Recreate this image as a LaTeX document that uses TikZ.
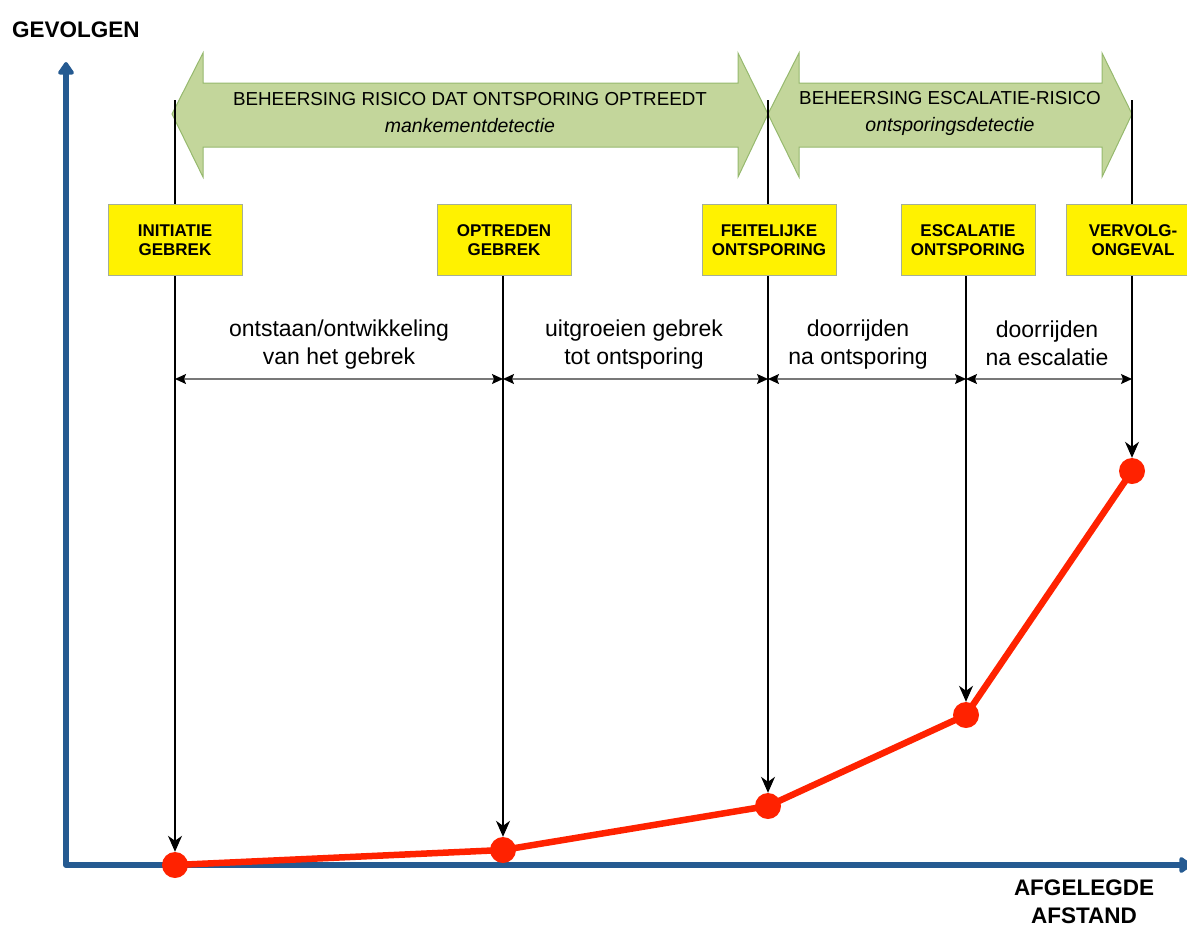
\documentclass[tikz,border=0pt]{standalone}
\usepackage{fontspec}
\setmainfont{Liberation Sans}
\usetikzlibrary{arrows.meta,backgrounds}
\definecolor{axisblue}{RGB}{37,90,145}
\definecolor{arrowgreen}{RGB}{195,214,155}
\definecolor{arrowedge}{RGB}{150,185,110}
\definecolor{ptred}{RGB}{255,34,0}
\definecolor{boxedge}{RGB}{165,175,150}
\definecolor{dimgray}{RGB}{120,120,120}
\begin{document}
\begin{tikzpicture}[x=1pt,y=-1pt,
  axis/.style={line width=6pt, color=axisblue, line cap=round, line join=round},
  greenarrow/.style={fill=arrowgreen, draw=arrowedge, line width=1pt},
  arrowtext/.style={align=center, font=\fontsize{18.8}{27}\selectfont, inner sep=0pt},
  eventbox/.style={rectangle, fill=yellow, draw=boxedge, line width=1pt, minimum width=134pt, minimum height=71pt, align=center, font=\bfseries\fontsize{17}{19.5}\selectfont, inner sep=0pt},
  dot/.style={circle, fill=ptred, minimum size=26pt, inner sep=0pt},
  redline/.style={line width=6.5pt, color=ptred, line join=round},
  vline/.style={line width=1.2pt, black, -{Stealth[length=16pt,width=14pt,inset=5pt]}},
  topline/.style={line width=1.2pt, black},
  dimline/.style={line width=1.2pt, color=dimgray, {Stealth[color=black,length=11pt,width=10pt,inset=2pt]}-{Stealth[color=black,length=11pt,width=10pt,inset=2pt]}},
  dimtext/.style={align=center, font=\fontsize{23}{28}\selectfont, inner sep=0pt},
  axislabel/.style={font=\bfseries\fontsize{22.5}{28}\selectfont, inner sep=0pt, align=center},
]
\useasboundingbox (0,0) rectangle (1187,927);

% axis labels
\node[axislabel, anchor=base west] (ylabel) at (12,37) {GEVOLGEN};
\node[axislabel, anchor=north] (xlabel) at (1084,880) {AFGELEGDE\\AFSTAND};

% green double arrows
\draw[greenarrow] (172,114) -- (203,53) -- (203,83) -- (738,83) -- (738,53) -- (768,114)
  -- (738,177) -- (738,147) -- (203,147) -- (203,177) -- cycle;
\draw[greenarrow] (768,114) -- (799,53) -- (799,83) -- (1102,83) -- (1102,53) -- (1132,114)
  -- (1102,177) -- (1102,147) -- (799,147) -- (799,177) -- cycle;
\node[arrowtext] (a1text) at (470,113) {BEHEERSING RISICO DAT ONTSPORING OPTREEDT\\\fontsize{19.5}{27}\selectfont\itshape mankementdetectie};
\node[arrowtext] (a2text) at (950,113) {BEHEERSING ESCALATIE-RISICO\\\fontsize{19.5}{27}\selectfont\itshape ontsporingsdetectie};

% event boxes
\node[eventbox] (b1) at (175,240) {INITIATIE\\GEBREK};
\node[eventbox] (b2) at (504,240) {OPTREDEN\\GEBREK};
\node[eventbox] (b3) at (769,240) {FEITELIJKE\\ONTSPORING};
\node[eventbox] (b4) at (968,240) {ESCALATIE\\ONTSPORING};
\node[eventbox] (b5) at (1133,240) {VERVOLG-\\ONGEVAL};

% points
\node[dot] (p1) at (175,865) {};
\node[dot] (p2) at (503,850) {};
\node[dot] (p3) at (768,806) {};
\node[dot] (p4) at (966,715) {};
\node[dot] (p5) at (1132,471) {};

% axes and curve behind the points
\coordinate (orig) at (66,865);
\coordinate (ytip) at (66,62);
\coordinate (xtip) at (1192,865);
\begin{scope}[on background layer]
  \draw[axis, {Triangle[round,length=14pt,width=18pt]}-{Triangle[round,length=14pt,width=18pt]}] (ytip) -- (orig) -- (xtip);
  \draw[redline] (p1.center) -- (p2.center) -- (p3.center) -- (p4.center) -- (p5.center);
\end{scope}

% vertical lines above boxes
\coordinate (t1) at (175,100);
\coordinate (t3) at (768,100);
\coordinate (t5) at (1132,100);
\draw[topline] (t1) -- (b1.north -| t1);
\draw[topline] (t3) -- (b3.north -| t3);
\draw[topline] (t5) -- (b5.north -| t5);

% vertical arrows to points
\draw[vline] (b1.south -| p1) -- (p1);
\draw[vline] (b2.south -| p2) -- (p2);
\draw[vline] (b3.south -| p3) -- (p3);
\draw[vline] (b4.south -| p4) -- (p4);
\draw[vline] (b5.south -| p5) -- (p5);

% dimension lines
\coordinate (d1) at (175,379);
\coordinate (d2) at (503,379);
\coordinate (d3) at (768,379);
\coordinate (d4) at (966,379);
\coordinate (d5) at (1132,379);
\draw[dimline] (d1) -- (d2);
\draw[dimline] (d2) -- (d3);
\draw[dimline] (d3) -- (d4);
\draw[dimline] (d4) -- (d5);

\node[dimtext] (s1) at (339,345) {ontstaan/ontwikkeling\\van het gebrek};
\node[dimtext] (s2) at (634,345) {uitgroeien gebrek\\tot ontsporing};
\node[dimtext] (s3) at (858,345) {doorrijden\\na ontsporing};
\node[dimtext] (s4) at (1047,343) {doorrijden\\na escalatie};
\end{tikzpicture}
\end{document}
